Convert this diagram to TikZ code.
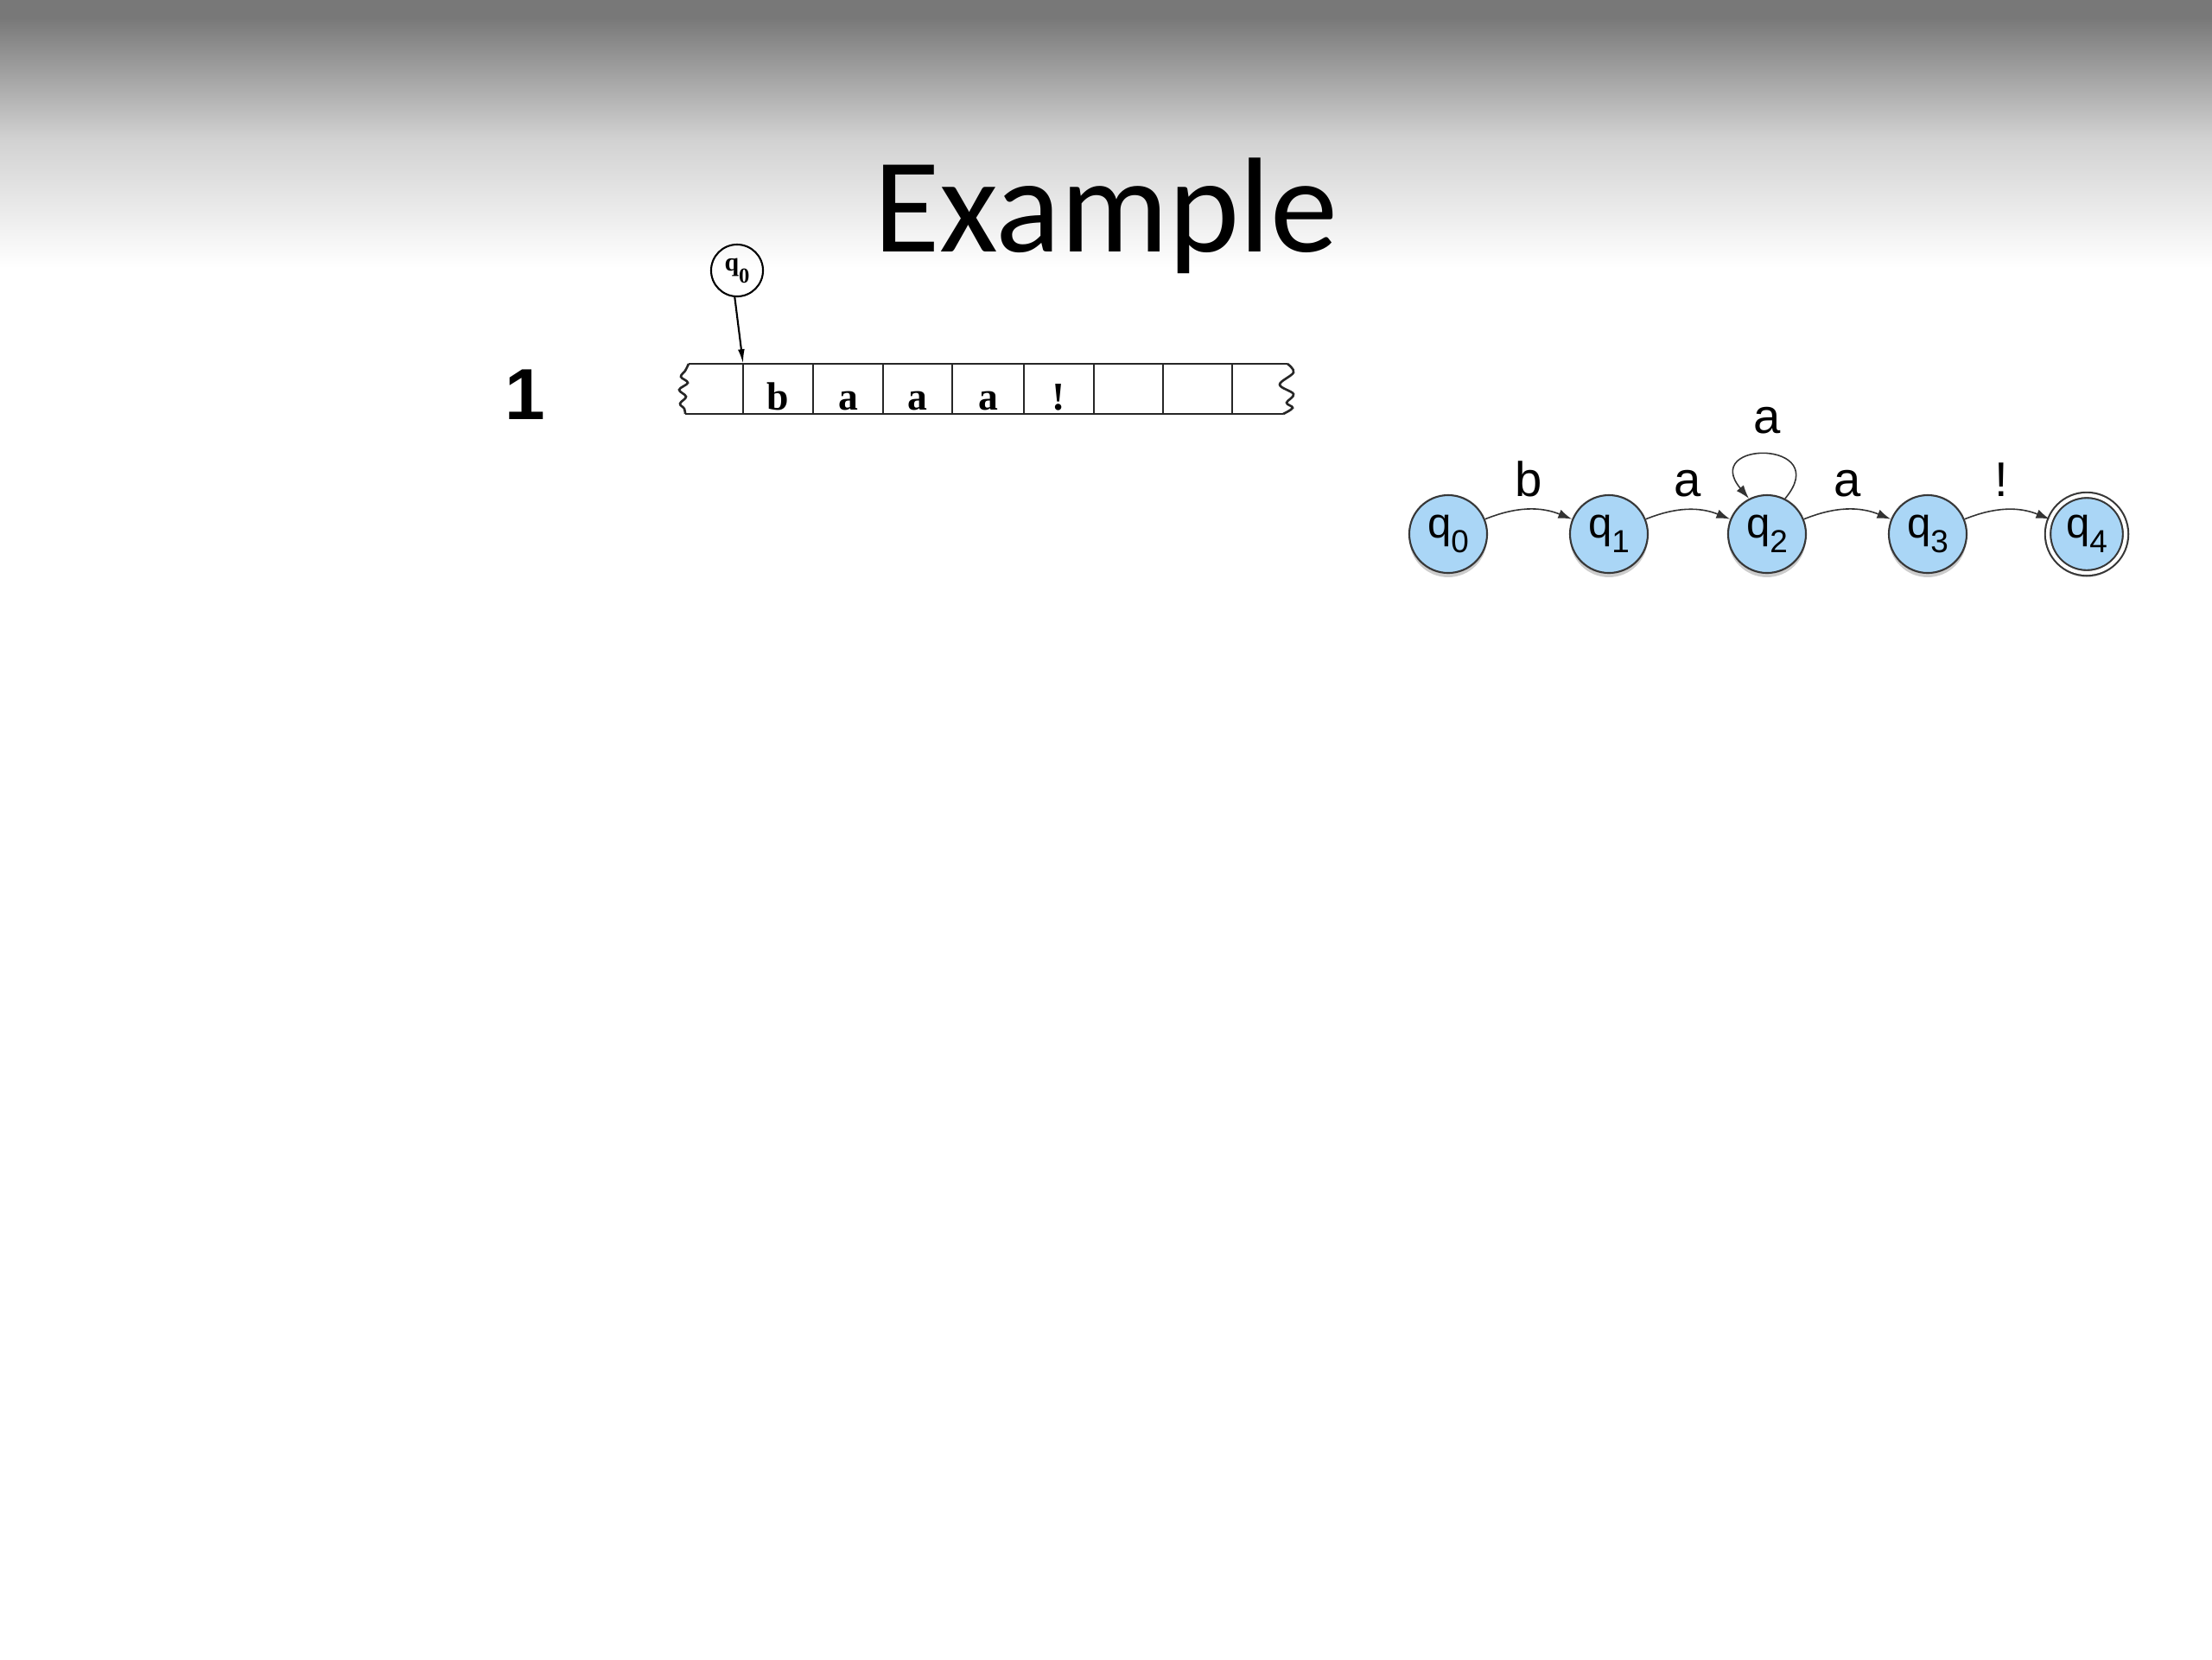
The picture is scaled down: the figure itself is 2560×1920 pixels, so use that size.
\documentclass[tikz,border=0pt]{standalone}
\usepackage{fontspec}
\setmainfont{Liberation Serif}
\newfontfamily\titlefont{Carlito}
\newfontfamily\sansf{Liberation Sans}
\usetikzlibrary{arrows.meta,shadows}
\definecolor{topgray}{gray}{0.47}
\definecolor{midgray}{gray}{0.82}
\definecolor{stfill}{RGB}{170,214,246}
\definecolor{stdraw}{RGB}{55,55,55}
\newcommand\qsub[1]{q\raisebox{-4.8pt}{\fontsize{10.5}{12}\selectfont #1}}
\newcommand\tapeq{q\raisebox{-4pt}{\fontsize{7}{8}\selectfont 0}}
\begin{document}
\begin{tikzpicture}[x=0.01cm,y=0.01cm,
  tapeline/.style={line width=0.75pt, black!85},
  tapesym/.style={anchor=base, inner sep=0pt, font=\bfseries\fontsize{13}{15}\selectfont},
  dfastate/.style={circle, minimum size=0.9cm, inner sep=0pt, fill=stfill, draw=stdraw, line width=0.6pt,
    drop shadow={shadow xshift=0pt, shadow yshift=-1.4pt, opacity=0.4},
    font=\sansf\fontsize{14}{16}\selectfont},
  finalstate/.style={dfastate, double=white, double distance=1.2pt},
  trans/.style={line width=0.45pt, black!80, -{Latex[length=4.5pt,width=3pt]}},
  lblfont/.style={anchor=base, inner sep=0pt, font=\sansf\fontsize{16}{18}\selectfont, text=black},
  lbl/.style={lblfont, midway, yshift=4.3pt},
]
\useasboundingbox (0,0) rectangle (2560,-1920);
% background
\fill[white] (0,0) rectangle (2560,-1920);
\fill[topgray] (0,0) rectangle (2560,-20);
\shade[top color=topgray, bottom color=midgray] (0,-20) rectangle (2560,-160);
\shade[top color=midgray, bottom color=white] (0,-160) rectangle (2560,-310);

% title
\node[anchor=base, inner sep=0pt, font=\titlefont\fontsize{44.5}{50}\selectfont] (title) at (1280,-291) {Example};

% step number
\node[anchor=base, inner sep=0pt, font=\sansf\bfseries\fontsize{23.8}{26}\selectfont] (num) at (608,-485) {1};

% tape
\draw[tapeline] (797,-421) -- (1490,-421);
\draw[tapeline] (793,-479) -- (1485,-479);
\foreach \x in {860,941,1022,1102,1185,1266,1346,1426}
  \draw[tapeline] (\x,-421) -- (\x,-479);
\draw[tapeline] plot[smooth, tension=0.6] coordinates {(797,-421) (793,-429) (788,-436) (796,-443) (786,-451) (794,-459) (787,-467) (792,-473) (793,-479)};
\draw[tapeline] plot[smooth, tension=0.6] coordinates {(1490,-421) (1497,-431) (1481,-445) (1497,-456) (1489,-466) (1496,-472) (1485,-479)};
\node[tapesym] (s1) at (900.5,-474) {b};
\node[tapesym] (s2) at (981.5,-474) {a};
\node[tapesym] (s3) at (1062,-474) {a};
\node[tapesym] (s4) at (1143.5,-474) {a};
\node[tapesym] (s5) at (1225.5,-474) {!};

% head
\node[circle, draw, line width=0.6pt, minimum size=0.6cm, inner sep=0pt, font=\bfseries\fontsize{8.5}{10}\selectfont] (tq0) at (853,-313) {\tapeq};
\coordinate (head) at (860,-421);
\draw[line width=0.6pt, -{Latex[length=4.8pt,width=2.2pt]}] (tq0.-95) -- (head);

% automaton
\node[dfastate] (q0) at (1676,-618) {\qsub{0}};
\node[dfastate] (q1) at (1862,-618) {\qsub{1}};
\node[dfastate] (q2) at (2045,-618) {\qsub{2}};
\node[dfastate] (q3) at (2231,-618) {\qsub{3}};
\node[finalstate] (q4) at (2415,-618) {\qsub{4}};

\draw[trans] (q0) to[bend left=22] node[lbl] {b} (q1);
\draw[trans] (q1) to[bend left=22] node[lbl] {a} (q2);
\draw[trans] (q2) to[bend left=22] node[lbl] {a} (q3);
\draw[trans] (q3) to[bend left=22] node[lbl, xshift=-2pt] {!} (q4);
\draw[trans] (q2.63) .. controls +(50:89) and +(130:89) .. node[lblfont, pos=0.5, yshift=7pt] (loopa) {a} (q2.117);
\end{tikzpicture}
\end{document}
